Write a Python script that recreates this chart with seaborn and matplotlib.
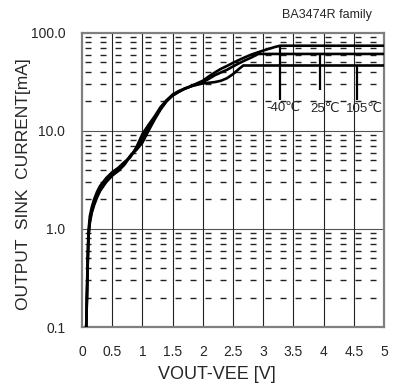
import numpy as np
import pandas as pd
import matplotlib
matplotlib.use("Agg")
import matplotlib.pyplot as plt
from matplotlib.ticker import FixedLocator, NullLocator
import seaborn as sns

# 読み取り値: VOUT-VEE [V] と OUTPUT SINK CURRENT [mA]
temps = ["-40℃", "25℃", "105℃"]

vout_m40 = [0.07, 0.08, 0.09, 0.10, 0.11, 0.13, 0.16, 0.20, 0.25, 0.30, 0.40, 0.50, 0.60,
            0.70, 0.80, 0.90, 1.00, 1.10, 1.20, 1.30, 1.40, 1.50, 1.60, 1.70, 1.80, 1.90,
            2.00, 2.10, 2.20, 2.30, 2.40, 2.50, 2.60, 2.70, 2.80, 2.90, 3.00, 3.10, 3.20,
            3.28, 5.00]
isink_m40 = [0.1, 0.2, 0.4, 0.7, 1.0, 1.35, 1.65, 2.0, 2.4, 2.75, 3.3, 3.8, 4.2,
             4.8, 5.4, 6.8, 9.3, 11.5, 14.0, 17.5, 20.5, 23.0, 25.0, 27.0, 28.5, 30.5,
             32.5, 36.0, 39.5, 43.0, 46.0, 49.5, 53.0, 56.5, 60.0, 63.0, 66.0, 69.0, 72.0,
             74.0, 74.0]

vout_25 = [0.07, 0.08, 0.09, 0.10, 0.11, 0.13, 0.16, 0.20, 0.25, 0.30, 0.40, 0.50, 0.60,
           0.70, 0.80, 0.90, 1.00, 1.10, 1.20, 1.30, 1.40, 1.50, 1.60, 1.70, 1.80, 1.90,
           2.00, 2.10, 2.20, 2.30, 2.40, 2.50, 2.60, 2.70, 2.80, 2.92, 5.00]
isink_25 = [0.1, 0.18, 0.35, 0.6, 0.9, 1.2, 1.5, 1.8, 2.2, 2.5, 3.1, 3.6, 4.0,
            4.6, 5.6, 6.4, 7.6, 10.0, 13.0, 16.5, 20.0, 23.0, 25.0, 27.0, 28.5, 30.0,
            31.5, 34.0, 37.0, 39.5, 42.0, 45.5, 49.0, 52.5, 56.0, 61.0, 61.0]

vout_105 = [0.07, 0.08, 0.09, 0.10, 0.11, 0.13, 0.16, 0.20, 0.25, 0.30, 0.40, 0.50, 0.60,
            0.70, 0.80, 0.90, 1.00, 1.10, 1.20, 1.30, 1.40, 1.50, 1.60, 1.70, 1.80, 1.90,
            2.00, 2.10, 2.20, 2.30, 2.40, 2.50, 2.60, 2.67, 5.00]
isink_105 = [0.1, 0.17, 0.32, 0.55, 0.85, 1.15, 1.45, 1.75, 2.1, 2.45, 3.0, 3.5, 3.9,
             4.5, 5.5, 6.6, 8.4, 10.8, 13.5, 17.0, 20.5, 23.5, 25.5, 27.0, 28.5, 29.5,
             30.5, 31.0, 31.5, 32.5, 34.5, 38.0, 43.0, 46.5, 46.5]

# 温度ラベル用の縦線
mark_x = [3.28, 3.94, 4.56]
mark_top = [74.0, 61.0, 46.5]
mark_bottom = [20.7, 26.0, 20.7]
label_x = [3.33, 4.02, 4.68]
label_y = [17.2, 16.6, 16.9]

x_ticks = [0, 0.5, 1, 1.5, 2, 2.5, 3, 3.5, 4, 4.5, 5]
x_tick_labels = ["0", "0.5", "1", "1.5", "2", "2.5", "3", "3.5", "4", "4.5", "5"]
y_ticks = [0.1, 1, 10, 100]
y_tick_labels = ["0.1", "1.0", "10.0", "100.0"]


def build_frame():
    parts = []
    for t, xs, ys in zip(temps, [vout_m40, vout_25, vout_105], [isink_m40, isink_25, isink_105]):
        parts.append(pd.DataFrame({"vout": xs, "isink": ys, "temp": t}))
    return pd.concat(parts, ignore_index=True)


def main():
    sns.set_style("white")
    plt.rcParams["font.family"] = ["Liberation Sans", "DejaVu Sans"]

    data = build_frame()

    fig = plt.figure(figsize=(3.98, 3.87), dpi=100)
    ax = fig.add_axes([0.206, 0.155, 0.759, 0.760])
    ax.set_yscale("log")
    ax.set_xlim(0, 5)
    ax.set_ylim(0.1, 100)

    # 補助目盛りの破線
    for k in [0.1, 1, 10]:
        for m in range(2, 10):
            ax.axhline(m * k, color="#222222", linewidth=1.0,
                       linestyle=(8.6, (4.3, 6.5)), zorder=1)
    for v in [1, 10]:
        ax.axhline(v, color="#555555", linewidth=0.8, zorder=1)
    for xv in x_ticks[1:-1]:
        ax.axvline(xv, color="#222222", linewidth=0.8, zorder=1)

    sns.lineplot(data=data, x="vout", y="isink", hue="temp", units="temp",
                 estimator=None, sort=False, palette=["black"] * 3,
                 linewidth=1.9, legend=False, ax=ax, zorder=3)

    ax.vlines(mark_x, mark_bottom, mark_top, color="black", linewidth=1.6, zorder=3)
    for lx, ly, t in zip(label_x, label_y, temps):
        ax.text(lx, ly, t, ha="center", va="center", fontsize=9.5, zorder=4)

    ax.xaxis.set_major_locator(FixedLocator(x_ticks))
    ax.set_xticklabels(x_tick_labels)
    ax.yaxis.set_major_locator(FixedLocator(y_ticks))
    ax.yaxis.set_minor_locator(NullLocator())
    ax.set_yticklabels(y_tick_labels)
    ax.tick_params(axis="x", length=0, pad=13, labelsize=10)
    ax.tick_params(axis="y", length=3, width=0.8, color="#808080", pad=9, labelsize=10)

    for s in ax.spines.values():
        s.set_color("#808080")
        s.set_linewidth(1.6)

    ax.set_xlabel("VOUT-VEE [V]", fontsize=13)
    ax.set_ylabel("OUTPUT  SINK  CURRENT[mA]", fontsize=12.5)
    ax.xaxis.set_label_coords(0.447, -0.132)
    ax.yaxis.set_label_coords(-0.17, 0.486)
    fig.text(0.822, 0.962, "BA3474R family", ha="center", va="center", fontsize=9)

    fig.savefig("out.png", dpi=100)
    plt.close(fig)


if __name__ == "__main__":
    main()
